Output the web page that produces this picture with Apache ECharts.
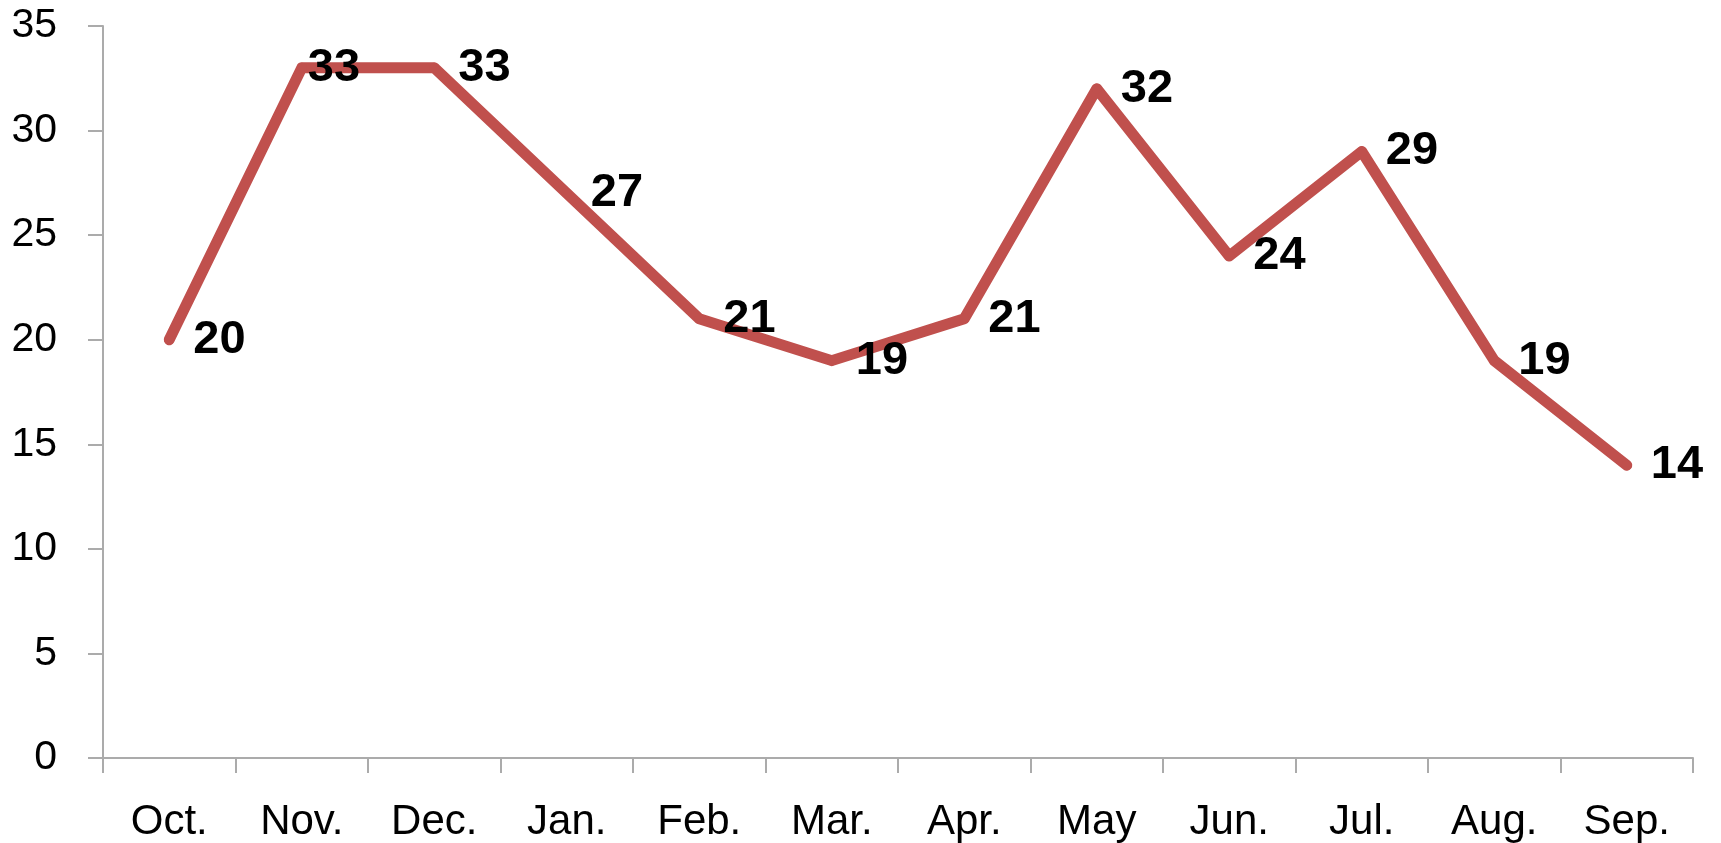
<!DOCTYPE html>
<html>
<head>
<meta charset="utf-8">
<script src="https://cdn.jsdelivr.net/npm/echarts@6/dist/echarts.min.js"></script>
<style>
html,body{margin:0;padding:0;background:#fff;}
#chart{width:1721px;height:843px;}
</style>
</head>
<body>
<div id="chart"></div>
<script>
const categories = ['Oct.', 'Nov.', 'Dec.', 'Jan.', 'Feb.', 'Mar.', 'Apr.', 'May', 'Jun.', 'Jul.', 'Aug.', 'Sep.'];
const values = [20, 33, 33, 27, 21, 19, 21, 32, 24, 29, 19, 14];
const yTicks = [0, 5, 10, 15, 20, 25, 30, 35];

const lineColor = '#C0504D';
const axisColor = '#ABABAB';
const fontFamily = '"Liberation Sans", Arial, sans-serif';

const seriesData = values.map((v, i) => {
  const item = { value: v };
  if (i === 1) item.label = { offset: [-18, 0] };
  return item;
});

const chart = echarts.init(document.getElementById('chart'), null, { renderer: 'canvas' });
chart.setOption({
  animation: false,
  backgroundColor: '#ffffff',
  grid: { left: 103, right: 28, top: 26, bottom: 85, containLabel: false },
  xAxis: {
    type: 'category',
    data: categories,
    boundaryGap: true,
    axisLine: { show: true, lineStyle: { color: axisColor, width: 2 } },
    axisTick: { show: true, length: 15, lineStyle: { color: axisColor, width: 2 } },
    axisLabel: { color: '#000', fontSize: 42, fontFamily: fontFamily, margin: 43 },
    splitLine: { show: false }
  },
  yAxis: {
    type: 'value',
    min: yTicks[0],
    max: yTicks[yTicks.length - 1],
    interval: yTicks[1] - yTicks[0],
    axisLine: { show: true, lineStyle: { color: axisColor, width: 2 } },
    axisTick: { show: true, length: 15, lineStyle: { color: axisColor, width: 2 } },
    axisLabel: { color: '#000', fontSize: 41, fontFamily: fontFamily, margin: 46 },
    splitLine: { show: false }
  },
  series: [{
    type: 'line',
    data: seriesData,
    symbol: 'circle',
    symbolSize: 10,
    itemStyle: { color: lineColor },
    lineStyle: { color: lineColor, width: 11, cap: 'round', join: 'round' },
    label: {
      show: true,
      position: 'right',
      distance: 19,
      color: '#000',
      fontSize: 47,
      fontWeight: 'bold',
      fontFamily: fontFamily
    }
  }]
});
</script>
</body>
</html>
